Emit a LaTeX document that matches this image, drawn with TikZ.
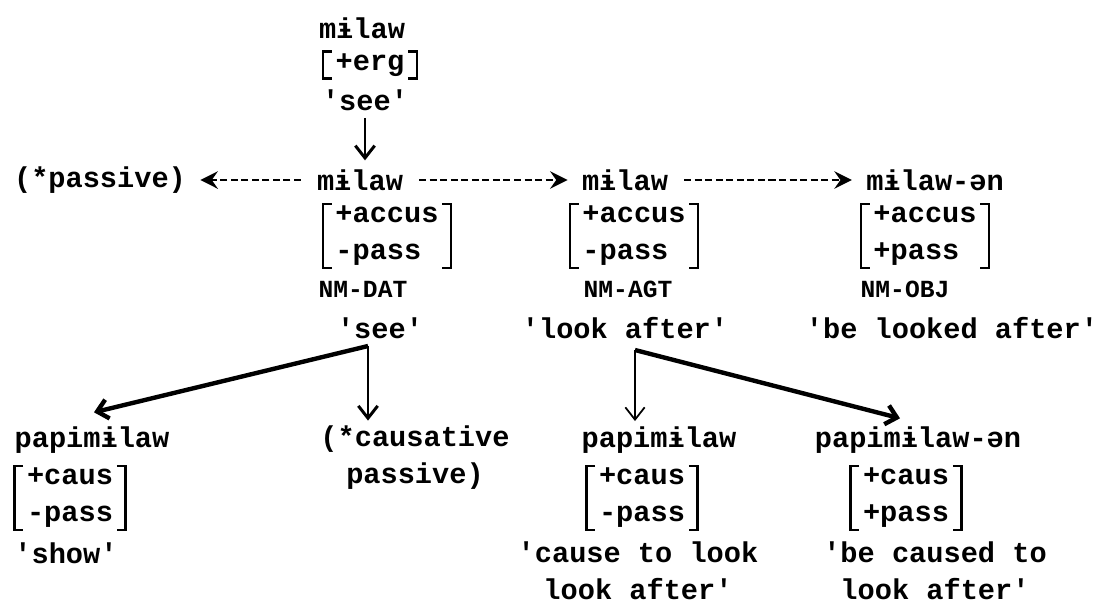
\documentclass[tikz,border=0pt]{standalone}
\usepackage{fontspec}
\setmonofont{Liberation Mono}
\usetikzlibrary{arrows.meta,calc}

\begin{document}
\begin{tikzpicture}[x=0.02cm, y=-0.02cm,
  word/.style={font=\ttfamily\bfseries\fontsize{16.3}{21}\selectfont, inner sep=0pt},
  feat/.style={word, align=left, inner xsep=7pt, inner ysep=1pt},
  case/.style={font=\ttfamily\bfseries\fontsize{14}{16}\selectfont, inner sep=0pt},
  brk/.style={line width=1.4pt},
  dasharr/.style={line width=1.2pt, dash pattern=on 4pt off 2pt, -{Stealth[length=10pt,width=10pt,inset=3.5pt]}, shorten <=9pt, shorten >=8pt},
  solidarr/.style={line width=1.7pt, -{Straight Barb[length=7pt,width=11pt]}},
  thickarr/.style={line width=2.5pt, -{Straight Barb[length=6pt,width=11pt]}}
]
\useasboundingbox (0,0) rectangle (1101,606);

% top verb
\node[word] (m0) at (362,28) {mɨlaw};
\node[feat] (f0) at (370,65) {+erg};
\node[word] (see0) at (365,100) {'see'};

% middle row
\node[word] (pas) at (100,180) {(*passive)};
\node[word] (m1) at (360,180) {mɨlaw};
\node[word] (m2) at (625,180) {mɨlaw};
\node[word] (m3) at (935,180) {mɨlaw-ən};

\node[feat] (f1) at (387,236) {+accus\\-pass};
\node[feat] (f2) at (634,236) {+accus\\-pass};
\node[feat] (f3) at (925,236) {+accus\\+pass};

\node[case] (c1) at (363,289) {NM-DAT};
\node[case] (c2) at (628,289) {NM-AGT};
\node[case] (c3) at (905,289) {NM-OBJ};

\node[word] (see1) at (380,328) {'see'};
\node[word] (see2) at (625,328) {'look after'};
\node[word] (see3) at (952,328) {'be looked after'};

% causatives
\node[word] (p1) at (92,440) {papimɨlaw};
\node[word, align=center] (cs) at (415,458) {(*causative\\passive)};
\node[word] (p2) at (659,440) {papimɨlaw};
\node[word] (p3) at (918,440) {papimɨlaw-ən};

\node[feat] (g1) at (70,498) {+caus\\-pass};
\node[feat] (g2) at (642,498) {+caus\\-pass};
\node[feat] (g3) at (906,498) {+caus\\+pass};

\node[word] (gl1) at (66,553) {'show'};
\node[word, align=center] (gl2) at (638,571) {'cause to look\\look after'};
\node[word, align=center] (gl3) at (935,571) {'be caused to\\look after'};

% brackets
\foreach \f in {f0,f1,f2,f3,g1,g2,g3}
  \draw[brk] ([xshift=5pt]\f.north west) -- (\f.north west) -- (\f.south west) -- ([xshift=5pt]\f.south west)
             ([xshift=-5pt]\f.north east) -- (\f.north east) -- (\f.south east) -- ([xshift=-5pt]\f.south east);

% derivations
\draw[solidarr, shorten <=4pt, shorten >=5pt] (see0.south) -- (see0.south |- m1.north);
\draw[dasharr] (m1) -- (pas);
\draw[dasharr] (m1) -- (m2);
\draw[dasharr] (m2) -- (m3);

\coordinate (j1) at (368,346);
\coordinate (j2) at (635,350);
\draw[thickarr] (j1) -- ($(p1.north)+(2,-14)$);
\draw[solidarr, shorten >=3pt] (j1) -- (j1 |- cs.north);
\draw[thickarr] (j2) -- ($(p3.north)+(-18,-8)$);
\draw[solidarr, line width=1pt, shorten >=3pt] (j2) -- (j2 |- p2.north);
\end{tikzpicture}
\end{document}
